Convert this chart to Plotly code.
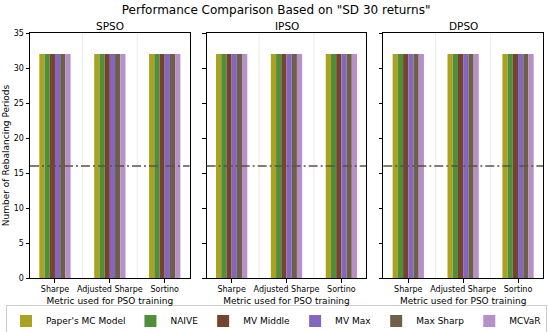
import plotly.graph_objects as go
from plotly.subplots import make_subplots

methods = ["SPSO", "IPSO", "DPSO"]
metrics = ["Sharpe", "Adjusted Sharpe", "Sortino"]
models = ["Paper's MC Model", "NAIVE", "MV Middle", "MV Max", "Max Sharp", "MCVaR"]

# Number of rebalancing periods per model (rows) and metric (columns)
spso_values = [
    [32, 32, 32],
    [32, 32, 32],
    [32, 32, 32],
    [32, 32, 32],
    [32, 32, 32],
    [32, 32, 32],
]
ipso_values = [
    [32, 32, 32],
    [32, 32, 32],
    [32, 32, 32],
    [32, 32, 32],
    [32, 32, 32],
    [32, 32, 32],
]
dpso_values = [
    [32, 32, 32],
    [32, 32, 32],
    [32, 32, 32],
    [32, 32, 32],
    [32, 32, 32],
    [32, 32, 32],
]
threshold = 16

colors = ["#aca222", "#4f8f3a", "#74452e", "#8566bf", "#6e6048", "#b890c8"]
panels = [spso_values, ipso_values, dpso_values]

FONT = "DejaVu Sans"

fig = make_subplots(rows=1, cols=3, shared_yaxes=True,
                    horizontal_spacing=0.0331, subplot_titles=methods)

for j, vals in enumerate(panels):
    for i, m in enumerate(models):
        fig.add_trace(go.Bar(x=metrics, y=vals[i], name=m,
                             marker_color=colors[i], marker_line_width=0,
                             legendgroup=m, showlegend=(j == 0)),
                      row=1, col=j + 1)

fig.add_hline(y=threshold, line=dict(color="#5a5246", width=1.3,
                                     dash="9px,3px,2px,3px"),
              row="all", col="all")
for k in range(len(metrics) - 1):
    fig.add_vline(x=k + 0.5, line=dict(color="#e6e6e6", width=0.8),
                  layer="below", row="all", col="all")

fig.update_xaxes(range=[-0.455, len(metrics) - 1 + 0.455], showline=True,
                 linecolor="black", linewidth=1, mirror=True, ticks="outside",
                 ticklen=3.5, tickcolor="black", tickfont=dict(size=8, color="black"),
                 showgrid=False, automargin=False,
                 title=dict(text="Metric used for PSO training",
                            font=dict(size=9, color="black"), standoff=4))
fig.update_yaxes(range=[0, 35], dtick=5, showline=True, linecolor="black",
                 linewidth=1, mirror=True, ticks="outside", ticklen=3.5,
                 tickcolor="black", tickfont=dict(size=8, color="black"),
                 showgrid=False, zeroline=False, automargin=False)
fig.update_yaxes(title=dict(text="Number of Rebalancing Periods",
                            font=dict(size=9, color="black"), standoff=2),
                 row=1, col=1)

fig.update_annotations(font=dict(size=10.5, color="black", family=FONT),
                       yshift=-1)

fig.update_layout(
    width=550, height=332,
    margin=dict(l=30, r=7, t=33, b=54, autoexpand=False),
    barmode="group", bargap=0.43, bargroupgap=0,
    font=dict(family=FONT, color="black"),
    paper_bgcolor="white", plot_bgcolor="white",
    title=dict(text='Performance Comparison Based on "SD 30 returns"',
               font=dict(size=12, color="black"), x=0.502, xanchor="center",
               y=0.97, yanchor="middle"),
    legend=dict(orientation="h", x=-0.0468, xanchor="left", y=-0.112,
                yanchor="top", font=dict(size=9), bordercolor="#cccccc",
                borderwidth=1, itemwidth=30, tracegroupgap=0),
)

fig.write_html("out.html",
               config={"displayModeBar": False},
               post_script="document.body.style.margin='0';"
                           "document.body.style.padding='0';")
